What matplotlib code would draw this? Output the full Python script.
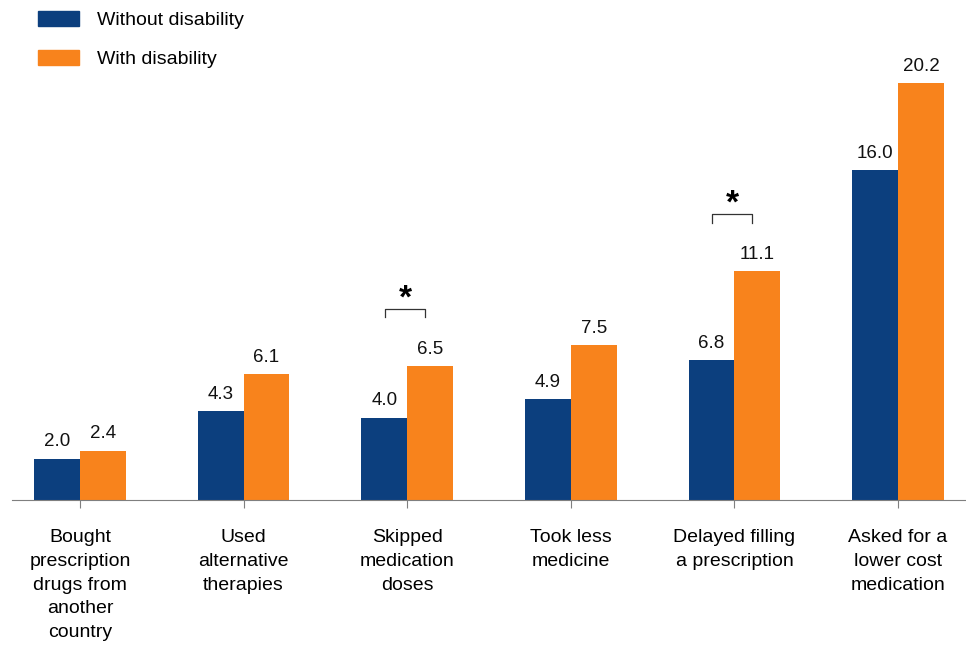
import numpy as np
import matplotlib.pyplot as plt
from matplotlib.patches import Patch

plt.rcParams['font.family'] = ['Liberation Sans', 'DejaVu Sans']

categories = [
    "Bought\nprescription\ndrugs from\nanother\ncountry",
    "Used\nalternative\ntherapies",
    "Skipped\nmedication\ndoses",
    "Took less\nmedicine",
    "Delayed filling\na prescription",
    "Asked for a\nlower cost\nmedication",
]
without_disability = [2.0, 4.3, 4.0, 4.9, 6.8, 16.0]
with_disability = [2.4, 6.1, 6.5, 7.5, 11.1, 20.2]
significant = [2, 4]

blue = "#0c3f7e"
orange = "#f8831c"
w = 0.28

fig = plt.figure(figsize=(9.66, 6.45), dpi=100)
ax = fig.add_axes([12 / 966, 145 / 645, 954 / 966, 495 / 645])
ax.patch.set_alpha(0)

x = np.arange(len(categories))
b1 = ax.bar(x - w / 2, without_disability, w, color=blue)
b2 = ax.bar(x + w / 2, with_disability, w, color=orange)

for bars, vals in ((b1, without_disability), (b2, with_disability)):
    for b, v in zip(bars, vals):
        ax.text(b.get_x() + b.get_width() / 2, v + 0.4, f"{v:.1f}",
                ha="center", va="bottom", fontsize=13.5, color="#111111")

# significance brackets
for i in significant:
    top = with_disability[i] + 2.75
    xs = [i - 0.135, i - 0.135, i + 0.11, i + 0.11]
    ys = [top - 0.4, top, top, top - 0.4]
    ax.plot(xs, ys, color="#333333", lw=0.9)
    ax.text(i - 0.01, top - 0.27, "*", ha="center", va="bottom",
            fontsize=24, fontweight="bold")

ax.set_xlim(-0.415, len(categories) - 1 + 0.415)
ax.set_ylim(0, 24)
ax.set_yticks([])
for s in ("top", "right", "left"):
    ax.spines[s].set_visible(False)
ax.spines["bottom"].set_color("#7f7f7f")
ax.set_xticks(x)
ax.set_xticklabels(categories, fontsize=14, linespacing=1.52, va="top")
ax.tick_params(axis="x", length=6, color="#7f7f7f", pad=15)

handles = [Patch(color=blue), Patch(color=orange)]
fig.legend(handles, ["Without disability", "With disability"],
           loc="upper left", bbox_to_anchor=(0.021, 1.01), frameon=False,
           fontsize=14, handlelength=2.1, handleheight=0.82,
           labelspacing=1.05, handletextpad=0.92)

fig.savefig("out.png", dpi=100)
